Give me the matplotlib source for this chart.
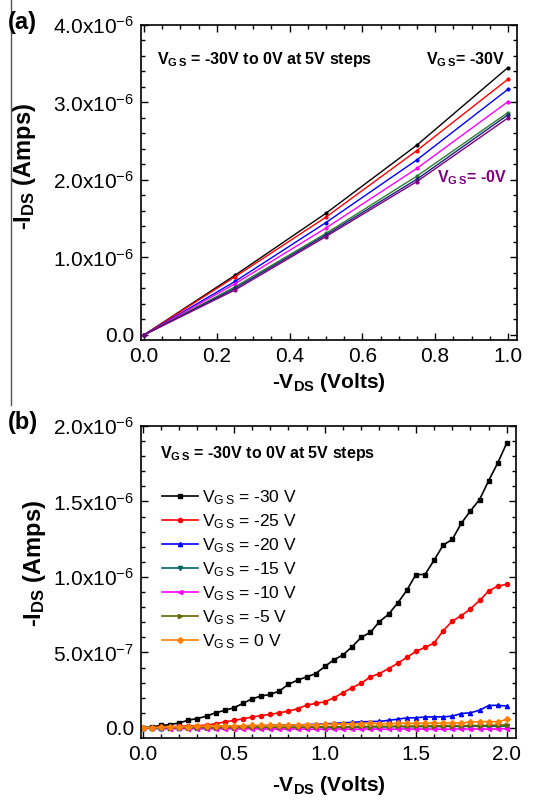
import numpy as np
import matplotlib
matplotlib.use("Agg")
import matplotlib.pyplot as plt
from matplotlib.ticker import MultipleLocator, FuncFormatter
from matplotlib.lines import Line2D

plt.rcParams['font.family'] = ['Liberation Sans', 'DejaVu Sans']
plt.rcParams['mathtext.fontset'] = 'custom'
plt.rcParams['mathtext.rm'] = 'Liberation Sans'
plt.rcParams['mathtext.bf'] = 'Liberation Sans:bold'
plt.rcParams['mathtext.default'] = 'regular'

# ---- panel (a) data : -I_DS (uA) vs -V_DS, one curve per V_GS
vds_a = [0.0, 0.25, 0.5, 0.75, 1.0]
ids_a = {
    '-30': [0.0, 0.77, 1.57, 2.45, 3.45],
    '-25': [0.0, 0.75, 1.52, 2.38, 3.30],
    '-20': [0.0, 0.69, 1.45, 2.26, 3.17],
    '-10': [0.0, 0.66, 1.38, 2.15, 3.01],
    '-15': [0.0, 0.62, 1.31, 2.05, 2.87],
    '-5':  [0.0, 0.60, 1.29, 2.01, 2.84],
    '0':   [0.0, 0.58, 1.27, 1.98, 2.80],
}
colors_a = ['black', 'red', 'blue', 'magenta', '#2e7d32', '#1a237e', '#800080']

# ---- panel (b) data : -I_DS (x1e-7 A) vs -V_DS from 0 to 2 V in 0.05 V steps
vds_b = np.round(np.arange(0, 2.001, 0.05), 2)
ids_b_m30 = [0, 0.07, 0.16, 0.22, 0.33, 0.51, 0.62, 0.78, 1.0, 1.16, 1.33, 1.62, 1.93, 2.11,
             2.22, 2.44, 2.89, 3.16, 3.38, 3.6, 4.07, 4.51, 4.84, 5.38, 6.0, 6.33, 7.04, 7.53,
             8.27, 9.11, 10.16, 10.16, 11.11, 12.11, 12.49, 13.56, 14.38, 15.13, 16.38, 17.56, 18.89]
ids_b_m25 = [0, 0, 0.05, 0.07, 0.1, 0.13, 0.15, 0.18, 0.27, 0.4, 0.49, 0.6, 0.71, 0.82, 0.89,
             1.0, 1.11, 1.27, 1.51, 1.62, 1.73, 2.0, 2.33, 2.67, 2.96, 3.38, 3.6, 3.93, 4.27,
             4.67, 5.07, 5.33, 5.62, 6.44, 7.07, 7.44, 7.89, 8.44, 9.07, 9.4, 9.51]
ids_b_m20 = [0, 0, 0, 0.01, 0.02, 0.03, 0.04, 0.05, 0.06, 0.08, 0.09, 0.1, 0.12, 0.14, 0.17,
             0.18, 0.19, 0.2, 0.22, 0.24, 0.26, 0.3, 0.33, 0.37, 0.4, 0.42, 0.43, 0.5, 0.58,
             0.66, 0.67, 0.72, 0.73, 0.73, 0.78, 0.95, 1.0, 1.17, 1.48, 1.5, 1.44]
ids_b_m15 = [0, -0.04, -0.05, -0.03, -0.04, -0.03, -0.02, -0.03, -0.02, -0.01, 0, 0.01, 0,
             0.01, 0.02, 0.03, 0.02, 0.03, 0.04, 0.03, 0.05, 0.04, 0.05, 0.06, 0.05, 0.07, 0.06,
             0.07, 0.08, 0.07, 0.08, 0.09, 0.08, 0.09, 0.1, 0.09, 0.1, 0.11, 0.1, 0.11, 0.12]
ids_b_m10 = [0, -0.03, -0.04, -0.05, -0.04, -0.05, -0.06, -0.05, -0.06, -0.07, -0.06, -0.07,
             -0.06, -0.07, -0.08, -0.07, -0.08, -0.07, -0.08, -0.09, -0.08, -0.07, -0.08, -0.09,
             -0.08, -0.07, -0.08, -0.09, -0.08, -0.07, -0.08, -0.07, -0.08, -0.09, -0.08, -0.07,
             -0.08, -0.07, -0.08, -0.07, -0.06]
ids_b_m5 = [0, -0.01, 0, 0.01, 0, 0.01, 0.02, 0.01, 0.02, 0.03, 0.02, 0.03, 0.04, 0.03, 0.05,
            0.04, 0.05, 0.06, 0.05, 0.07, 0.06, 0.08, 0.07, 0.09, 0.1, 0.09, 0.11, 0.1, 0.12,
            0.11, 0.13, 0.12, 0.14, 0.13, 0.15, 0.14, 0.16, 0.15, 0.17, 0.18, 0.2]
ids_b_0 = [0, 0.02, 0.04, 0.06, 0.07, 0.09, 0.1, 0.11, 0.12, 0.14, 0.13, 0.15, 0.16, 0.17,
           0.17, 0.18, 0.2, 0.19, 0.21, 0.22, 0.23, 0.24, 0.26, 0.27, 0.29, 0.3, 0.28, 0.29,
           0.3, 0.31, 0.3, 0.31, 0.32, 0.31, 0.33, 0.32, 0.4, 0.41, 0.42, 0.41, 0.56]
labels_b = ['-30', '-25', '-20', '-15', '-10', '-5', '0']
series_b = [ids_b_m30, ids_b_m25, ids_b_m20, ids_b_m15, ids_b_m10, ids_b_m5, ids_b_0]
colors_b = ['black', 'red', 'blue', '#006666', 'magenta', '#666600', '#ff7f00']
markers_b = ['s', 'o', '^', 'v', '<', '>', 'D']

W, H = 539, 801
fig = plt.figure(figsize=(W / 100, H / 100), dpi=100)


def px_axes(left, top, right, bottom):
    return fig.add_axes([left / W, 1 - bottom / H, (right - left) / W, (bottom - top) / H])


def sci(v, pos):
    if abs(v) < 1e-15:
        return '0.0'
    e = int(np.floor(np.log10(abs(v)) + 1e-9))
    m = v / 10 ** e
    return '%.1fx10$^{%d}$' % (m, e)


def style(ax):
    ax.tick_params(which='both', direction='in', top=True, right=True, labelsize=15, width=1)
    ax.tick_params(which='major', length=5, pad=5)
    ax.tick_params(which='minor', length=3)
    for s in ax.spines.values():
        s.set_linewidth(1.2)
    ax.yaxis.set_major_formatter(FuncFormatter(sci))


# ---------------- (a)
ax1 = px_axes(141, 25, 517, 340)
for (k, v), c in zip(ids_a.items(), colors_a):
    ax1.plot(vds_a, np.array(v) * 1e-6, color=c, lw=1, marker='o', ms=2)
ax1.set_xlim(-0.008, 1.025)
ax1.set_ylim(-0.065e-6, 4.0e-6)
ax1.xaxis.set_major_locator(MultipleLocator(0.2))
ax1.xaxis.set_minor_locator(MultipleLocator(0.05))
ax1.yaxis.set_major_locator(MultipleLocator(1e-6))
ax1.yaxis.set_minor_locator(MultipleLocator(0.2e-6))
ax1.xaxis.set_major_formatter(FuncFormatter(lambda v, p: '%.1f' % v))
style(ax1)
ax1.set_xlabel('-V$_{DS}$ (Volts)', fontsize=15, fontweight='bold')
ax1.xaxis.set_label_coords(0.5, -0.1)
ax1.set_ylabel('-I$_{DS}$ (Amps)', fontsize=17, fontweight='bold', va='center')
ax1.yaxis.set_label_coords(-0.31, 0.55)
ax1.text(0.043, 0.889, 'V$_{G\\,S}$ = -30V to 0V at 5V steps', transform=ax1.transAxes,
         fontsize=11.5, fontweight='bold', va='center')
ax1.text(0.968, 0.889, 'V$_{G\\,S}$= -30V', transform=ax1.transAxes,
         fontsize=11.5, fontweight='bold', va='center', ha='right')
ax1.text(0.787, 0.514, 'V$_{G\\,S}$= -0V', transform=ax1.transAxes,
         fontsize=11.5, fontweight='bold', va='center', color='#800080')

# ---------------- (b)
ax2 = px_axes(141, 426, 516, 738)
for lab, y, c, m in zip(labels_b, series_b, colors_b, markers_b):
    ax2.plot(vds_b, np.array(y) * 1e-7, color=c, lw=1.2, marker=m, ms=3,
             label='V$_{G\\,S}$ = %s V' % lab)
ax2.set_xlim(-0.01, 2.05)
ax2.set_ylim(-0.067e-6, 2.0e-6)
ax2.xaxis.set_major_locator(MultipleLocator(0.5))
ax2.xaxis.set_minor_locator(MultipleLocator(0.1))
ax2.yaxis.set_major_locator(MultipleLocator(0.5e-6))
ax2.yaxis.set_minor_locator(MultipleLocator(0.1e-6))
ax2.xaxis.set_major_formatter(FuncFormatter(lambda v, p: '%.1f' % v))
style(ax2)
ax2.set_xlabel('-V$_{DS}$ (Volts)', fontsize=15, fontweight='bold')
ax2.xaxis.set_label_coords(0.5, -0.115)
ax2.set_ylabel('-I$_{DS}$ (Amps)', fontsize=17, fontweight='bold', va='center')
ax2.yaxis.set_label_coords(-0.285, 0.56)
ax2.text(0.05, 0.913, 'V$_{G\\,S}$ = -30V to 0V at 5V steps', transform=ax2.transAxes,
         fontsize=11.5, fontweight='bold', va='center')
ax2.legend(loc='upper left', bbox_to_anchor=(0.055, 0.80), frameon=False, fontsize=12.5,
           handlelength=2.1, handletextpad=0.2, labelspacing=0.3, borderpad=0, borderaxespad=0)

# panel letters and the thin divider line on the left
fig.text(8 / W, 1 - 22 / H, '(a)', fontsize=17, fontweight='bold', va='center')
fig.text(8 / W, 1 - 423 / H, '(b)', fontsize=17, fontweight='bold', va='center')
fig.add_artist(Line2D([11 / W, 11 / W], [1, 1 - 405 / H], color='#555555', lw=1))

fig.savefig('out.png', dpi=100)
